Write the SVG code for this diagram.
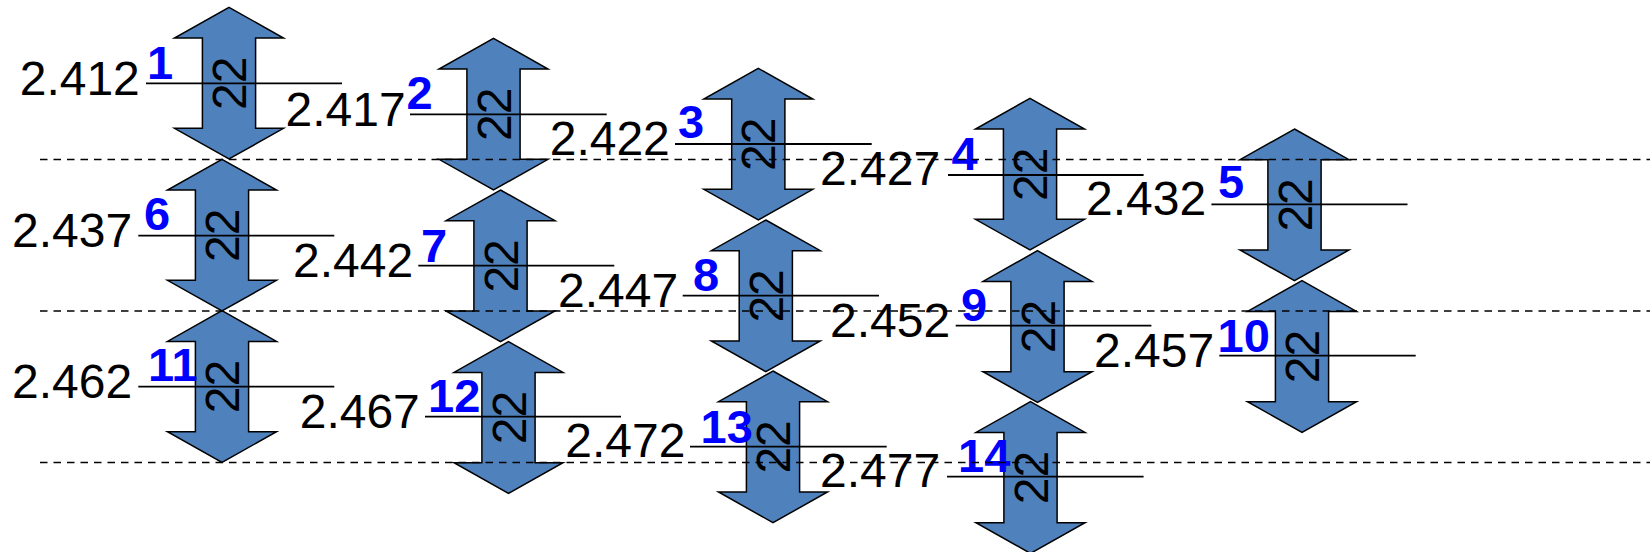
<svg xmlns="http://www.w3.org/2000/svg" xmlns:xlink="http://www.w3.org/1999/xlink" width="1650" height="552" viewBox="0 0 1650 552">
<style>
.arr{fill:#4F81BD;stroke:#000;stroke-width:1.5;stroke-linejoin:miter}
.lvl{stroke:#000;stroke-width:1.8;fill:none}
.dash{stroke:#000;stroke-width:1.6;stroke-dasharray:7.5 6;fill:none}
.val{font-family:"Liberation Sans",Arial,sans-serif;font-size:48px;fill:#000}
.num{font-family:"Liberation Sans",Arial,sans-serif;font-size:47px;font-weight:bold;fill:#0000FF}
.in{font-family:"Liberation Sans",Arial,sans-serif;font-size:48px;fill:#000;text-anchor:middle}
</style>
<defs>
<path id="arr" d="M0,0 L54.5,30.7 L26.6,30.7 L26.6,121 L54.5,121 L0,151.7 L-54.5,121 L-26.6,121 L-26.6,30.7 L-54.5,30.7 Z"/>
</defs>
<g id="node1"><use xlink:href="#arr" class="arr" x="229" y="7.3"/><text class="in" transform="translate(229,83.2) rotate(-90)" y="17">22</text><line class="lvl" x1="146" y1="83.3" x2="342" y2="83.3"/><text class="val" x="19.7" y="95">2.412</text><text class="num" x="147" y="79">1</text></g>
<g id="node2"><use xlink:href="#arr" class="arr" x="493.5" y="38.3"/><text class="in" transform="translate(493.5,114.2) rotate(-90)" y="17">22</text><line class="lvl" x1="410" y1="114.3" x2="606.7" y2="114.3"/><text class="val" x="285.5" y="126">2.417</text><text class="num" x="406.5" y="109.3">2</text></g>
<g id="node3"><use xlink:href="#arr" class="arr" x="758.3" y="68.3"/><text class="in" transform="translate(758.3,144.2) rotate(-90)" y="17">22</text><line class="lvl" x1="675" y1="144" x2="871.7" y2="144"/><text class="val" x="549.7" y="155">2.422</text><text class="num" x="678" y="138.3">3</text></g>
<g id="node4"><use xlink:href="#arr" class="arr" x="1030" y="98.3"/><text class="in" transform="translate(1030,174.2) rotate(-90)" y="17">22</text><line class="lvl" x1="948" y1="175" x2="1143.6" y2="175"/><text class="val" x="820" y="185">2.427</text><text class="num" x="951.5" y="170">4</text></g>
<g id="node5"><use xlink:href="#arr" class="arr" x="1294.5" y="129"/><text class="in" transform="translate(1294.5,204.9) rotate(-90)" y="17">22</text><line class="lvl" x1="1211.4" y1="204.3" x2="1407.5" y2="204.3"/><text class="val" x="1086" y="215">2.432</text><text class="num" x="1218" y="198.3">5</text></g>
<g id="node6"><use xlink:href="#arr" class="arr" x="222" y="159.3"/><text class="in" transform="translate(222,235.2) rotate(-90)" y="17">22</text><line class="lvl" x1="138.3" y1="235.7" x2="334.3" y2="235.7"/><text class="val" x="12" y="246.7">2.437</text><text class="num" x="144" y="230">6</text></g>
<g id="node7"><use xlink:href="#arr" class="arr" x="500.5" y="190"/><text class="in" transform="translate(500.5,265.9) rotate(-90)" y="17">22</text><line class="lvl" x1="418.3" y1="265.7" x2="614.3" y2="265.7"/><text class="val" x="293" y="276.7">2.442</text><text class="num" x="421" y="261.7">7</text></g>
<g id="node8"><use xlink:href="#arr" class="arr" x="765.8" y="220"/><text class="in" transform="translate(765.8,295.9) rotate(-90)" y="17">22</text><line class="lvl" x1="682.7" y1="295.7" x2="879" y2="295.7"/><text class="val" x="558" y="306.7">2.447</text><text class="num" x="693" y="290.7">8</text></g>
<g id="node9"><use xlink:href="#arr" class="arr" x="1037.5" y="250.7"/><text class="in" transform="translate(1037.5,326.6) rotate(-90)" y="17">22</text><line class="lvl" x1="955.7" y1="325.7" x2="1151.4" y2="325.7"/><text class="val" x="830" y="336.7">2.452</text><text class="num" x="961" y="320.7">9</text></g>
<g id="node10"><use xlink:href="#arr" class="arr" x="1302" y="280.7"/><text class="in" transform="translate(1302,356.6) rotate(-90)" y="17">22</text><line class="lvl" x1="1219.3" y1="355.7" x2="1415.7" y2="355.7"/><text class="val" x="1094" y="366.7">2.457</text><text class="num" x="1217.5" y="352.3">10</text></g>
<g id="node11"><use xlink:href="#arr" class="arr" x="222" y="310.7"/><text class="in" transform="translate(222,386.6) rotate(-90)" y="17">22</text><line class="lvl" x1="138.3" y1="386.7" x2="334.3" y2="386.7"/><text class="val" x="12" y="398.3">2.462</text><text class="num" x="148" y="380.7">11</text></g>
<g id="node12"><use xlink:href="#arr" class="arr" x="508.5" y="341.7"/><text class="in" transform="translate(508.5,417.6) rotate(-90)" y="17">22</text><line class="lvl" x1="425" y1="416.7" x2="621" y2="416.7"/><text class="val" x="299.7" y="427.7">2.467</text><text class="num" x="428" y="412.3">12</text></g>
<g id="node13"><use xlink:href="#arr" class="arr" x="773" y="371"/><text class="in" transform="translate(773,446.9) rotate(-90)" y="17">22</text><line class="lvl" x1="690" y1="446.7" x2="886.7" y2="446.7"/><text class="val" x="565.3" y="456.7">2.472</text><text class="num" x="700.5" y="442.7">13</text></g>
<g id="node14"><use xlink:href="#arr" class="arr" x="1030.5" y="401.7"/><text class="in" transform="translate(1030.5,477.6) rotate(-90)" y="17">22</text><line class="lvl" x1="947" y1="476.7" x2="1143.6" y2="476.7"/><text class="val" x="820" y="486.7">2.477</text><text class="num" x="958" y="471.7">14</text></g>
<g id="connectors">
<line class="dash" x1="40" y1="159.5" x2="1650" y2="159.5"/>
<line class="dash" x1="40" y1="311" x2="1650" y2="311"/>
<line class="dash" x1="40" y1="462.5" x2="1650" y2="462.5"/>
</g>
</svg>
